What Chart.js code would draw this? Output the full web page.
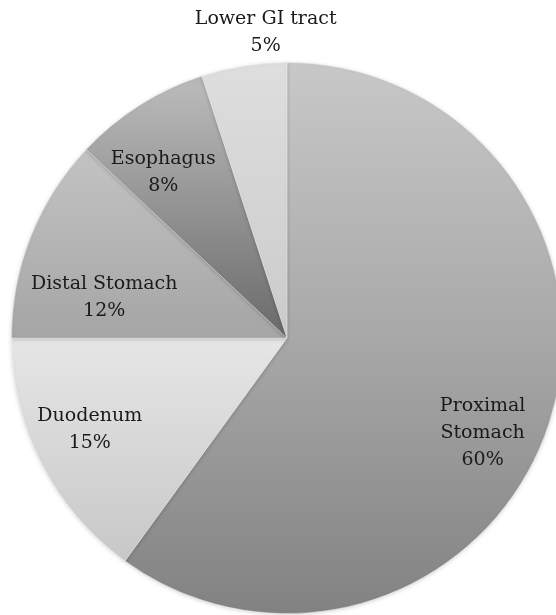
<!DOCTYPE html>
<html lang="en">
<head>
    <meta charset="UTF-8">
    <title>GI tract distribution</title>
    <script src="https://cdn.jsdelivr.net/npm/chart.js"></script>
    <style>
        html, body { margin: 0; padding: 0; background: #fff; overflow: hidden; }
        /* canvas is a bit wider than the window so the pie gets cut on the right like the original */
        canvas { display: block; }
    </style>
</head>
<body>
    <canvas id="pie" width="600" height="615"></canvas>

    <script>
        // data
        const categories = ['Proximal Stomach', 'Duodenum', 'Distal Stomach', 'Esophagus', 'Lower GI tract'];
        const shares = [60, 15, 12, 8, 5];

        // vertical gradient stops per slice (0 = top of pie, 1 = bottom)
        const sliceStops = [
            [[0, '#c8c8c8'], [0.5, '#a8a8a8'], [1, '#828282']],
            [[0.5, '#e6e6e6'], [0.9, '#c8c8c8']],
            [[0.15, '#c4c4c4'], [0.5, '#a5a5a5']],
            [[0.05, '#b8b8b8'], [0.5, '#6a6a6a']],
            [[0, '#dedede'], [0.5, '#cbcbcb']]
        ];

        // label placement: radial factor + small angle nudge (deg), line wrapping
        const labelPos = [
            { f: 0.79, nudge: 8, lines: ['Proximal', 'Stomach'] },
            { f: 0.79, nudge: 2 },
            { f: 0.68, nudge: -9 },
            { f: 0.75, nudge: -4.4 },
            { f: 1.11, nudge: 5 }
        ];

        function sliceGradient(context) {
            const chart = context.chart;
            const area = chart.chartArea;
            if (!area) return '#aaa';
            const g = chart.ctx.createLinearGradient(0, area.top, 0, area.bottom);
            sliceStops[context.dataIndex].forEach(s => g.addColorStop(s[0], s[1]));
            return g;
        }

        // soft edge around the pie
        const pieShadow = {
            id: 'pieShadow',
            beforeDatasetsDraw(chart) {
                const c = chart.ctx;
                c.save();
                c.shadowColor = 'rgba(0,0,0,0.18)';
                c.shadowBlur = 4;
                c.shadowOffsetY = 1;
            },
            afterDatasetsDraw(chart) {
                chart.ctx.restore();
            }
        };

        const sliceLabels = {
            id: 'sliceLabels',
            afterDatasetsDraw(chart) {
                const ctx = chart.ctx;
                const arcs = chart.getDatasetMeta(0).data;
                ctx.save();
                ctx.font = '19px "DejaVu Serif", serif';
                ctx.fillStyle = '#1a1a1a';
                ctx.textAlign = 'center';
                ctx.textBaseline = 'middle';
                arcs.forEach((arc, i) => {
                    const p = labelPos[i];
                    const mid = (arc.startAngle + arc.endAngle) / 2 + p.nudge * Math.PI / 180;
                    const r = arc.outerRadius * p.f;
                    const x = arc.x + Math.cos(mid) * r;
                    const y = arc.y + Math.sin(mid) * r;
                    const lines = (p.lines || [categories[i]]).concat([shares[i] + '%']);
                    const lh = 27;
                    const y0 = y - (lines.length - 1) * lh / 2;
                    lines.forEach((t, k) => ctx.fillText(t, x, y0 + k * lh));
                });
                ctx.restore();
            }
        };

        new Chart(document.getElementById('pie'), {
            type: 'pie',
            data: {
                labels: categories,
                datasets: [{
                    data: shares,
                    backgroundColor: sliceGradient,
                    borderColor: 'rgba(255,255,255,0.3)',
                    borderWidth: 1
                }]
            },
            options: {
                responsive: false,
                animation: false,
                layout: { padding: { top: 62, bottom: 1, left: 11, right: 37 } },
                plugins: {
                    legend: { display: false },
                    tooltip: { enabled: false }
                }
            },
            plugins: [pieShadow, sliceLabels]
        });
    </script>
</body>
</html>
